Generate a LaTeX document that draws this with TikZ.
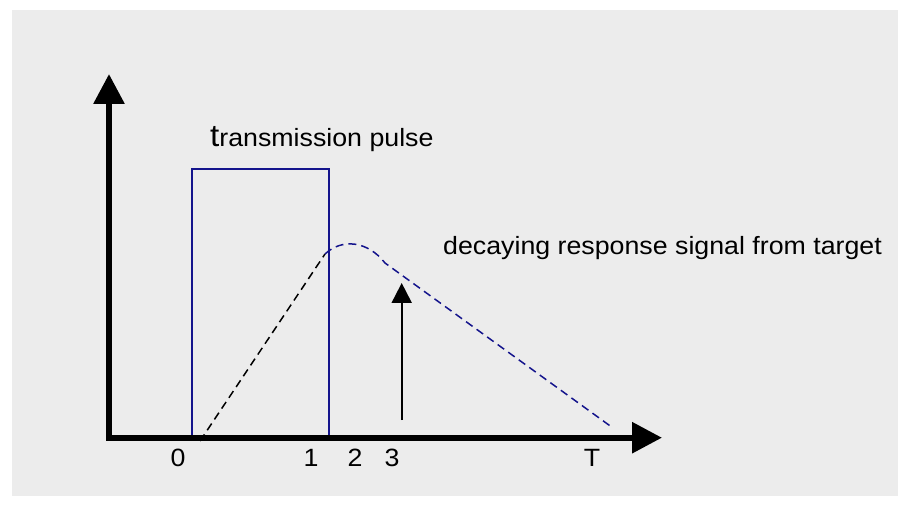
\documentclass[tikz,border=0pt]{standalone}
\usepackage{fontspec}
\setmainfont{Liberation Sans}
\newfontfamily\lbl[FakeStretch=1.07]{Liberation Sans}
\usetikzlibrary{arrows.meta}
\definecolor{bgray}{HTML}{ECECEC}
\definecolor{navy}{RGB}{20,20,140}
\tikzset{
  axis/.style={line width=6pt,-{Triangle[width=30pt,length=30pt]}},
  pulse/.style={draw=navy,line width=1.6pt},
  rise/.style={line width=1.5pt,dash pattern=on 8pt off 5pt},
  decay/.style={draw=navy,line width=1.5pt,dash pattern=on 8pt off 5pt},
  probe/.style={line width=2pt,-{Triangle[width=20pt,length=20pt]}},
  lab/.style={inner sep=0pt,font=\lbl\fontsize{25}{30}\selectfont},
  tick/.style={inner sep=0pt,anchor=base,font=\lbl\fontsize{25}{30}\selectfont}
}
\begin{document}
\begin{tikzpicture}[x=1pt,y=-1pt]
\useasboundingbox (0,0) rectangle (911,505);
\fill[bgray] (12,10) rectangle (898,496);
% coordinates
\coordinate (Xs) at (106,437.7);
\coordinate (Xt) at (662,437.7);
\coordinate (Ys) at (109,440.7);
\coordinate (Yt) at (109,74);
\coordinate (R1) at (191.7,436);
\coordinate (R2) at (328.7,169.3);
\coordinate (A) at (200,441);
\coordinate (B) at (325,254);
\coordinate (C) at (385,263);
\coordinate (D) at (613,428);
\coordinate (P1) at (401.7,420);
\coordinate (P2) at (401.7,283);
% pulse rectangle
\draw[pulse] (R1) rectangle (R2);
% axes
\draw[axis] (Xs) -- (Xt);
\draw[axis] (Ys) -- (Yt);
% response
\draw[rise] (A) -- (B);
\draw[decay] (B) .. controls (342,238) and (368,241) .. (C) -- (D);
% probe arrow
\draw[probe] (P1) -- (P2);
% labels
\node[lab,anchor=base west] (tp) at (210,147) {{\fontsize{31}{31}\selectfont t}ransmission pulse};
\node[lab,anchor=base west] (dr) at (443,255) {decaying response signal from target};
\node[tick] (t0) at (178,466) {0};
\node[tick] (t1) at (311,466) {1};
\node[tick] (t2) at (355,466) {2};
\node[tick] (t3) at (392,466) {3};
\node[tick] (tT) at (592,466) {T};
\end{tikzpicture}
\end{document}
